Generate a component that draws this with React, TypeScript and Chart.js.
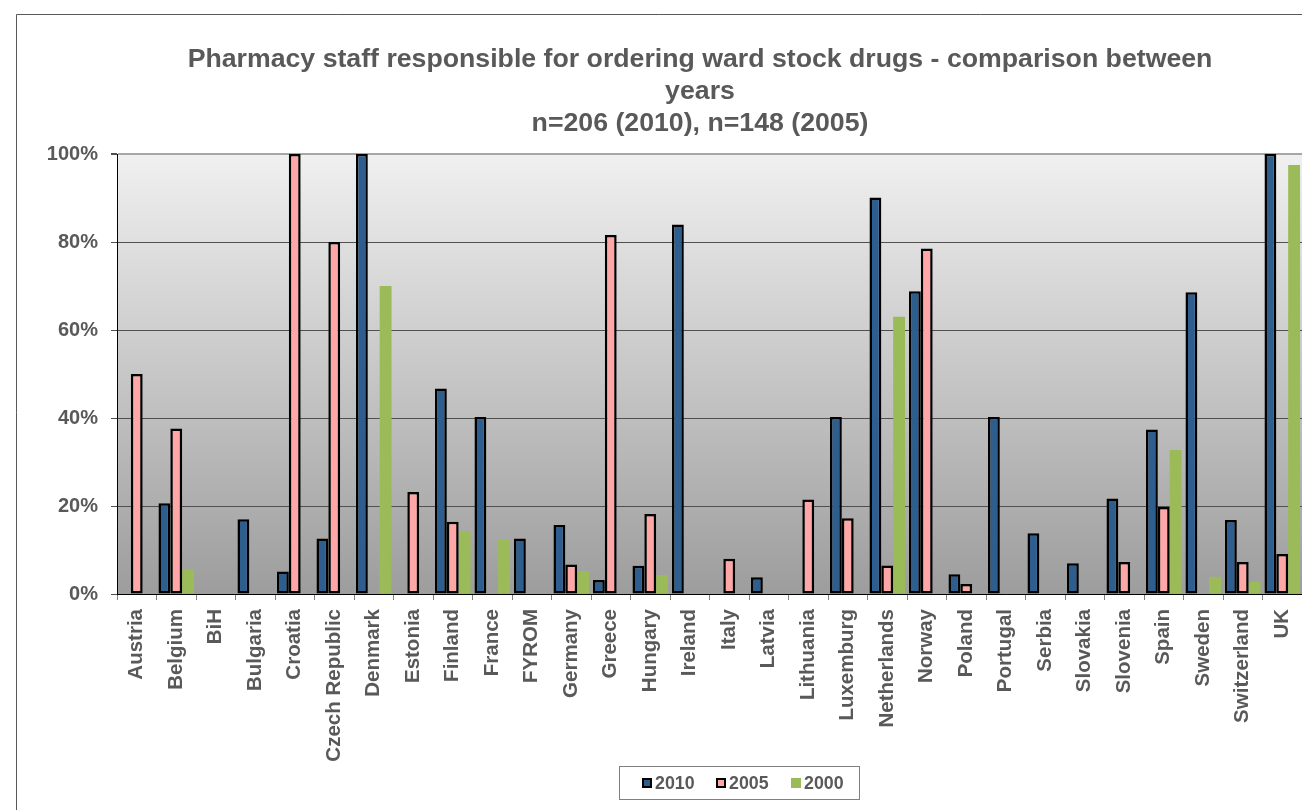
import React, { useEffect, useRef } from "react";
import { Chart, registerables } from "chart.js";

Chart.register(...registerables);

const categories = [
  "Austria", "Belgium", "BiH", "Bulgaria", "Croatia", "Czech Republic", "Denmark",
  "Estonia", "Finland", "France", "FYROM", "Germany", "Greece", "Hungary", "Ireland",
  "Italy", "Latvia", "Lithuania", "Luxemburg", "Netherlands", "Norway", "Poland",
  "Portugal", "Serbia", "Slovakia", "Slovenia", "Spain", "Sweden", "Switzerland", "UK",
];

const values2010 = [
  null, 20.6, null, 17.0, 5.1, 12.6, 100, null, 46.7, 40.2, 12.6, 15.7, 3.2, 6.4, 84.0,
  null, 3.8, null, 40.2, 90.1, 68.8, 4.5, 40.2, 13.8, 7.0, 21.7, 37.4, 68.6, 16.8, 100,
];

const values2005 = [
  50, 37.6, null, null, 100, 80, null, 23.2, 16.4, null, null, 6.7, 81.6, 18.2, null,
  8.0, null, 21.5, 17.2, 6.5, 78.5, 2.3, null, null, null, 7.3, 19.8, null, 7.3, 9.1,
];

const values2000 = [
  null, 5.6, null, null, null, null, 70, null, 14.2, 12.3, null, 5.2, null, 4.3, null,
  null, null, null, null, 63, null, null, null, null, null, null, 32.7, 3.9, 2.8, 97.5,
];

const seriesLabels = ["2010", "2005", "2000"];
const titleLines = [
  "Pharmacy staff responsible for ordering ward stock drugs - comparison between",
  "years",
  "n=206 (2010), n=148 (2005)",
];
const yTicks = [0, 20, 40, 60, 80, 100];

const FONT = '"Liberation Sans", Arial, sans-serif';
const TEXT = "#595959";
const COLORS = ["#2E5E8E", "#FFA6A6", "#9BBB59"];

const decorPlugin = {
  id: "decor",
  beforeDraw(chart: any) {
    const { ctx, chartArea: a, width, height } = chart;
    ctx.save();
    ctx.fillStyle = "#ffffff";
    ctx.fillRect(0, 0, width, height);
    // outer frame
    ctx.strokeStyle = "#595959";
    ctx.lineWidth = 1;
    ctx.beginPath();
    ctx.moveTo(16.5, height);
    ctx.lineTo(16.5, 14.5);
    ctx.lineTo(width, 14.5);
    ctx.stroke();
    // plot background gradient
    const g = ctx.createLinearGradient(0, a.top, 0, a.bottom);
    g.addColorStop(0, "#f0f0f0");
    g.addColorStop(1, "#9d9d9d");
    ctx.fillStyle = g;
    ctx.fillRect(a.left, a.top, a.right - a.left, a.bottom - a.top);
    ctx.restore();
  },
  afterDraw(chart: any) {
    const { ctx } = chart;
    ctx.save();
    // title
    ctx.fillStyle = TEXT;
    ctx.font = `bold 26.7px ${FONT}`;
    ctx.textAlign = "center";
    ctx.textBaseline = "middle";
    const ys = [60, 92, 124];
    titleLines.forEach((t, i) => ctx.fillText(t, 700, ys[i]));
    // legend box
    const bx = 619.5, by = 766.5, bw = 240, bh = 33;
    ctx.fillStyle = "#ffffff";
    ctx.fillRect(bx, by, bw, bh);
    ctx.strokeStyle = "#808080";
    ctx.lineWidth = 1;
    ctx.strokeRect(bx, by, bw, bh);
    const items = [
      { x: 642, tx: 655 },
      { x: 716, tx: 729 },
      { x: 791, tx: 804 },
    ];
    ctx.font = `bold 17.8px ${FONT}`;
    ctx.textAlign = "left";
    ctx.textBaseline = "middle";
    items.forEach((it, i) => {
      const sy = 778;
      if (i < 2) {
        ctx.fillStyle = "#000000";
        ctx.fillRect(it.x, sy, 10, 10);
        ctx.fillStyle = COLORS[i];
        ctx.fillRect(it.x + 2, sy + 2, 6, 6);
      } else {
        ctx.fillStyle = COLORS[i];
        ctx.fillRect(it.x, sy, 10, 10);
      }
      ctx.fillStyle = TEXT;
      ctx.fillText(seriesLabels[i], it.tx, 784);
    });
    ctx.restore();
  },
};

export default function App() {
  const ref = useRef<HTMLCanvasElement | null>(null);
  useEffect(() => {
    if (!ref.current) return;
    const mk = (data: (number | null)[], i: number) => ({
      label: seriesLabels[i],
      data,
      backgroundColor: COLORS[i],
      borderColor: "#000000",
      borderWidth: i < 2 ? 2.5 : 0,
      borderSkipped: false,
      categoryPercentage: 0.9,
      barPercentage: 1.0,
    });
    const chart = new Chart(ref.current, {
      type: "bar",
      data: {
        labels: categories,
        datasets: [mk(values2010, 0), mk(values2005, 1), mk(values2000, 2)],
      },
      plugins: [decorPlugin],
      options: {
        animation: false,
        responsive: false,
        maintainAspectRatio: false,
        layout: { padding: { top: 154, left: 0, right: 0, bottom: 0 } },
        plugins: { legend: { display: false }, title: { display: false }, tooltip: { enabled: false } },
        scales: {
          x: {
            offset: true,
            grid: {
              offset: true,
              drawOnChartArea: false,
              drawTicks: true,
              tickLength: 6,
              color: "#808080",
              tickColor: "#808080",
            },
            border: { color: "#000000", width: 1 },
            ticks: {
              autoSkip: false,
              minRotation: 90,
              maxRotation: 90,
              padding: 9,
              color: TEXT,
              font: { family: FONT, size: 20.5, weight: "bold" },
            },
            afterFit: (s: any) => {
              s.height = 810 - 594;
              s.paddingLeft = 0;
              s.paddingRight = 0;
            },
          },
          y: {
            min: 0,
            max: 100,
            afterBuildTicks: (s: any) => {
              s.ticks = yTicks.map((v) => ({ value: v }));
            },
            grid: {
              drawTicks: true,
              tickLength: 6,
              color: (c: any) => (c.tick && c.tick.value === 100 ? "#a6a6a6" : "#505050"),
              lineWidth: (c: any) => (c.tick && c.tick.value === 100 ? 2 : 1),
              tickColor: "#505050",
            },
            border: { color: "#000000", width: 1 },
            ticks: {
              padding: 13,
              color: TEXT,
              font: { family: FONT, size: 20, weight: "bold" },
              callback: (v: any) => `${v}%`,
            },
            afterFit: (s: any) => {
              s.width = 117;
              s.paddingTop = 0;
              s.paddingBottom = 0;
            },
          },
        },
      },
    });
    return () => chart.destroy();
  }, []);
  return (
    <div style={{ position: "absolute", left: 0, top: 0, width: 1302, height: 810, overflow: "hidden" }}>
      <canvas ref={ref} width={1302} height={810} style={{ display: "block", width: 1302, height: 810 }} />
    </div>
  );
}
